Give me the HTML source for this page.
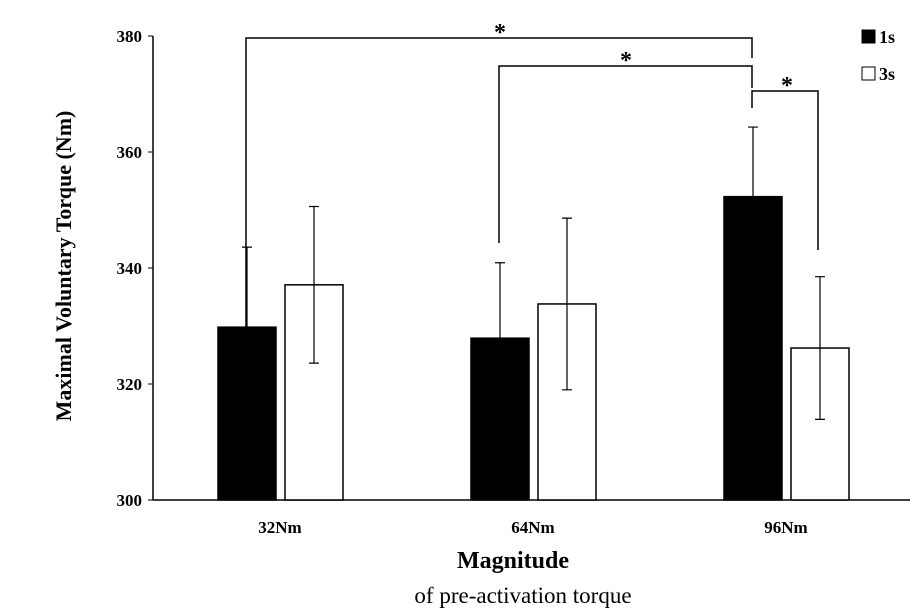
<!DOCTYPE html>
<html><head><meta charset="utf-8"><style>
body{margin:0;background:#fff}
svg{display:block;font-family:"Liberation Serif",serif}
</style></head><body>
<svg width="924" height="614" viewBox="0 0 924 614">
<g id="plot"></g>
</svg>
<script>
const categories=["32Nm","64Nm","96Nm"];
const values1s=[329.8,327.9,352.3];
const values3s=[337.1,333.8,326.2];
const err1s=[13.8,13.0,12.0];
const err3s=[13.5,14.8,12.3];
const yTicks=[300,320,340,360,380];
const NS="http://www.w3.org/2000/svg";
const g=document.getElementById('plot');
const y0=500,yTop=36,vMin=300,vMax=380;
function y(v){return y0-(v-vMin)/(vMax-vMin)*(y0-yTop);}
function xc(i){return 280+i*253;}
function mk(t,a,txt){const e=document.createElementNS(NS,t);for(const k in a)e.setAttribute(k,a[k]);if(txt!==undefined)e.textContent=txt;g.appendChild(e);return e;}
let e;
e=mk('line',{x1:153,y1:36,x2:153,y2:500,stroke:'#000','stroke-width':1.5});

e=mk('line',{x1:153,y1:500,x2:910,y2:500,stroke:'#000','stroke-width':1.5});

yTicks.forEach(t=>{
 e=mk('line',{x1:148,y1:y(t),x2:153,y2:y(t),stroke:'#000'});
 
 e=mk('text',{x:142,y:y(t)+6,'text-anchor':'end','font-size':17,'font-weight':'bold'},t);
 
});
categories.forEach((c,i)=>{
 const x=xc(i);
 e=mk('text',{x:x,y:533,'text-anchor':'middle','font-size':17,'font-weight':'bold'},c);
 
 [[values1s,err1s,'#000',x-62,'bar-1s'],[values3s,err3s,'#fff',x+5,'bar-3s']].forEach(([vals,errs,fill,bx,nm])=>{
  const v=vals[i];
  e=mk('rect',{x:bx,y:y(v),width:58,height:y0-y(v),fill:fill,stroke:'#000','stroke-width':1.5});
  
  const cx=bx+29;
  e=mk('path',{d:`M${cx},${y(v-errs[i])}V${y(v+errs[i])}M${cx-5},${y(v+errs[i])}H${cx+5}M${cx-5},${y(v-errs[i])}H${cx+5}`,stroke:'#000',fill:'none','stroke-width':1.2});
  
 });
});
// significance brackets
const br=[[246,348,38,752,58,500,34],[499,243,66,752,88,626,62],[752,108,91,818,250,787,87]];
br.forEach(b=>{
 e=mk('path',{d:`M${b[0]},${b[1]}V${b[2]}H${b[3]}V${b[4]}`,stroke:'#000',fill:'none','stroke-width':1.5});
 
 e=mk('text',{x:b[5],y:b[6]+6,'text-anchor':'middle','font-size':24,'font-weight':'bold'},'*');
 
});
e=mk('rect',{x:862,y:30,width:13,height:13,fill:'#000',stroke:'#000'});

e=mk('text',{x:879,y:43,'font-size':18,'font-weight':'bold'},'1s');

e=mk('rect',{x:862,y:67,width:13,height:13,fill:'#fff',stroke:'#000'});

e=mk('text',{x:879,y:80,'font-size':18,'font-weight':'bold'},'3s');

e=mk('text',{x:513,y:568,'text-anchor':'middle','font-size':24,'font-weight':'bold'},'Magnitude');

e=mk('text',{x:523,y:603,'text-anchor':'middle','font-size':23},'of pre-activation torque');

e=mk('text',{x:0,y:0,'text-anchor':'middle','font-size':22,'font-weight':'bold',transform:'translate(71,266) rotate(-90)'},'Maximal Voluntary Torque (Nm)');

</script>
</body></html>
